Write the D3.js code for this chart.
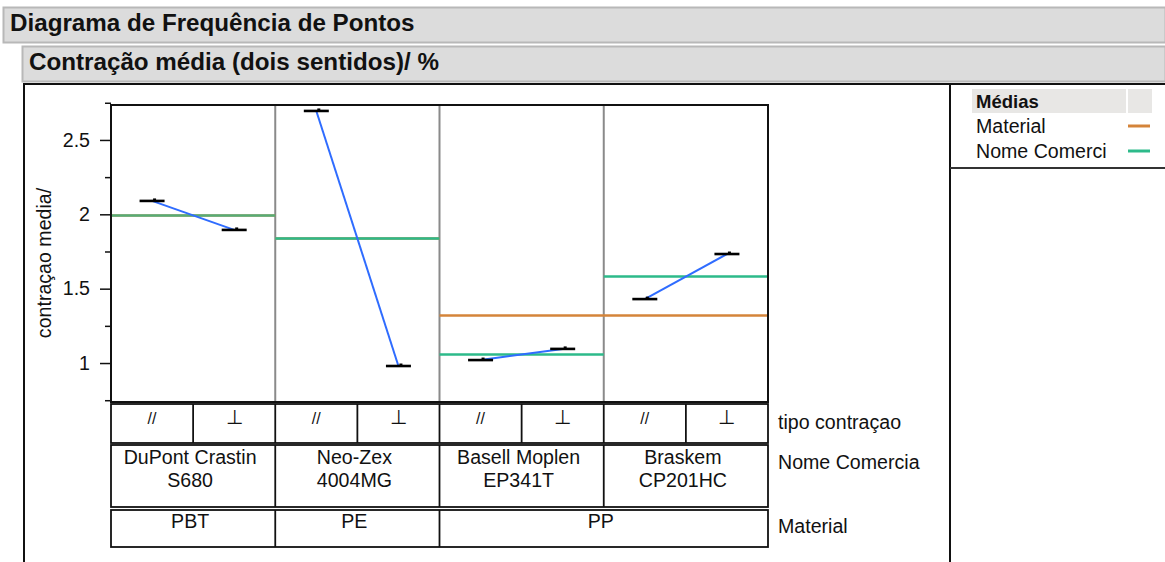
<!DOCTYPE html>
<html>
<head>
<meta charset="utf-8">
<script src="https://cdn.jsdelivr.net/npm/d3@7"></script>
<style>
  html, body { margin: 0; padding: 0; background: #fff; }
  svg { display: block; font-family: "Liberation Sans", Arial, sans-serif; }
</style>
</head>
<body>
<svg id="chart" width="1165" height="562"></svg>
<script>
// Shrinkage (two directions) per trade name, grouped by material
const tradeNames = ["DuPont Crastin S680", "Neo-Zex 4004MG", "Basell Moplen EP341T", "Braskem CP201HC"];
const tradeNameLines = [["DuPont Crastin", "S680"], ["Neo-Zex", "4004MG"], ["Basell Moplen", "EP341T"], ["Braskem", "CP201HC"]];
const materials = ["PBT", "PE", "PP", "PP"];
const shrinkTypes = ["//", "⊥"];
const parallelValues = [2.09, 2.695, 1.02, 1.43];
const perpendicularValues = [1.895, 0.98, 1.095, 1.733];
const yTicks = [1, 1.5, 2, 2.5];
const yMinorTicks = [0.75, 1.25, 1.75, 2.25, 2.75];

const svg = d3.select("#chart");
const labelSize = 19.6;
const cellTextShift = -3; // cell labels sit slightly left of the cell centre

const frame = { left: 111, right: 768, top: 105, bottom: 402 };
const x = d3.scaleBand().domain(tradeNames).range([frame.left, frame.right]);
const xType = d3.scaleBand().domain(shrinkTypes).range([0, x.bandwidth()]);
const y = d3.scaleLinear().domain([0.738, 2.735]).range([frame.bottom, frame.top]);

const colors = { material: "#d4843a", tradeName: "#2dba8a", line: "#2f6cff" };

// Header bars
function headerBar(x0, y0, h, text, baseline) {
  svg.append("rect").attr("x", x0 + 0.5).attr("y", y0 + 0.5).attr("width", 1165 - x0).attr("height", h)
    .attr("fill", "#dcdcdc").attr("stroke", "#b8b8b8").attr("stroke-width", 2);
  svg.append("text").attr("x", x0 + 7).attr("y", baseline).attr("font-size", 24.2)
    .attr("font-weight", "bold").attr("fill", "#111").text(text);
}
headerBar(3, 7, 35, "Diagrama de Frequência de Pontos", 31);
headerBar(22, 46, 35, "Contração média (dois sentidos)/ %", 70);

// Outer frame of the report
svg.append("line").attr("x1", 23).attr("x2", 1165).attr("y1", 84).attr("y2", 84).attr("stroke", "#111").attr("stroke-width", 2);
svg.append("line").attr("x1", 24).attr("x2", 24).attr("y1", 84).attr("y2", 562).attr("stroke", "#111").attr("stroke-width", 2);
svg.append("line").attr("x1", 950).attr("x2", 950).attr("y1", 84).attr("y2", 562).attr("stroke", "#111").attr("stroke-width", 2);
svg.append("line").attr("x1", 950).attr("x2", 1165).attr("y1", 168).attr("y2", 168).attr("stroke", "#333").attr("stroke-width", 2);

// Legend
svg.append("rect").attr("x", 972).attr("y", 89).attr("width", 154).attr("height", 24).attr("fill", "#e8e7e5");
svg.append("rect").attr("x", 1128).attr("y", 89).attr("width", 24).attr("height", 24).attr("fill", "#e8e7e5");
svg.append("text").attr("x", 976).attr("y", 108).attr("font-size", 18.5).attr("font-weight", "bold").attr("fill", "#111").text("Médias");
const legendItems = [["Material", colors.material], ["Nome Comerci", colors.tradeName]];
legendItems.forEach(([label, c], i) => {
  svg.append("text").attr("x", 976).attr("y", 133 + i * 25).attr("font-size", labelSize).attr("fill", "#111").text(label);
  svg.append("line").attr("x1", 1128).attr("x2", 1150).attr("y1", 126 + i * 25).attr("y2", 126 + i * 25)
    .attr("stroke", c).attr("stroke-width", 3);
});

// Y axis
const yAxis = svg.append("g").attr("transform", `translate(${frame.left},0)`)
  .call(d3.axisLeft(y).tickValues(yTicks).tickSize(11).tickPadding(10).tickFormat(d3.format("")));
yAxis.select(".domain").remove();
yAxis.selectAll("text").attr("font-size", labelSize).attr("fill", "#111").attr("font-family", "Liberation Sans, Arial, sans-serif");
yAxis.selectAll("line").attr("stroke", "#111").attr("stroke-width", 1.5);
const yMinor = svg.append("g").attr("transform", `translate(${frame.left},0)`)
  .call(d3.axisLeft(y).tickValues(yMinorTicks).tickSize(6).tickFormat(""));
yMinor.select(".domain").remove();
yMinor.selectAll("line").attr("stroke", "#111").attr("stroke-width", 1.5);

svg.append("text").attr("transform", `translate(51,263) rotate(-90)`)
  .attr("text-anchor", "middle").attr("font-size", labelSize).attr("fill", "#111").text("contraçao media/");

// Panel separators
svg.selectAll(".sep").data(tradeNames.slice(1)).join("line")
  .attr("x1", d => x(d)).attr("x2", d => x(d)).attr("y1", frame.top).attr("y2", frame.bottom)
  .attr("stroke", "#8a8a8a").attr("stroke-width", 2);

// Material means (across trade names of the same material)
const materialGroups = d3.groups(tradeNames.map((t, i) => ({ t, i, m: materials[i] })), d => d.m);
materialGroups.forEach(([m, items]) => {
  const mean = d3.mean(items.flatMap(d => [parallelValues[d.i], perpendicularValues[d.i]]));
  svg.append("line")
    .attr("x1", x(items[0].t)).attr("x2", x(items[items.length - 1].t) + x.bandwidth())
    .attr("y1", y(mean)).attr("y2", y(mean))
    .attr("stroke", colors.material).attr("stroke-width", 2.5);
});

// Trade name means
tradeNames.forEach((t, i) => {
  const mean = d3.mean([parallelValues[i], perpendicularValues[i]]);
  svg.append("line").attr("x1", x(t)).attr("x2", x(t) + x.bandwidth())
    .attr("y1", y(mean)).attr("y2", y(mean))
    .attr("stroke", colors.tradeName).attr("stroke-width", 2.5).attr("opacity", i === 0 ? 0.75 : 1);
});

// Connecting lines and points
tradeNames.forEach((t, i) => {
  const pts = [parallelValues[i], perpendicularValues[i]].map((v, k) => [x(t) + xType(shrinkTypes[k]) + xType.bandwidth() / 2, y(v)]);
  svg.append("path").attr("d", d3.line()(pts)).attr("fill", "none").attr("stroke", colors.line).attr("stroke-width", 2);
  pts.forEach(([px, py]) => {
    svg.append("line").attr("x1", px - 12.5).attr("x2", px + 12.5).attr("y1", py).attr("y2", py)
      .attr("stroke", "#000").attr("stroke-width", 2.6);
    svg.append("rect").attr("x", px + 1).attr("y", py - 2.5).attr("width", 3).attr("height", 3).attr("fill", "#000");
  });
});

// Plot border
svg.append("rect").attr("x", frame.left).attr("y", frame.top).attr("width", frame.right - frame.left)
  .attr("height", frame.bottom - frame.top).attr("fill", "none").attr("stroke", "#111").attr("stroke-width", 2);

// Category table below the plot
const rows = [
  { top: 404, bottom: 443, label: "tipo contraçao", labelY: 429 },
  { top: 445, bottom: 507, label: "Nome Comercia", labelY: 469 },
  { top: 510, bottom: 547, label: "Material", labelY: 533 }
];
rows.forEach(r => {
  svg.append("rect").attr("x", frame.left).attr("y", r.top).attr("width", frame.right - frame.left)
    .attr("height", r.bottom - r.top).attr("fill", "none").attr("stroke", "#111").attr("stroke-width", 1.8);
  svg.append("text").attr("x", 778).attr("y", r.labelY).attr("font-size", labelSize).attr("fill", "#111").text(r.label);
});

// Row 1: shrink direction
tradeNames.forEach(t => {
  shrinkTypes.forEach((s, k) => {
    const x0 = x(t) + xType(s);
    if (x0 > frame.left) {
      svg.append("line").attr("x1", x0).attr("x2", x0).attr("y1", rows[0].top).attr("y2", rows[0].bottom)
        .attr("stroke", "#111").attr("stroke-width", 1.8);
    }
    svg.append("text").attr("x", x0 + xType.bandwidth() / 2).attr("y", 424).attr("text-anchor", "middle")
      .attr("font-size", k === 0 ? 16 : labelSize).attr("fill", "#111").text(s);
  });
});

// Row 2: trade names
tradeNames.forEach((t, i) => {
  if (x(t) > frame.left) {
    svg.append("line").attr("x1", x(t)).attr("x2", x(t)).attr("y1", rows[1].top).attr("y2", rows[1].bottom)
      .attr("stroke", "#111").attr("stroke-width", 1.8);
  }
  tradeNameLines[i].forEach((ln, j) => {
    svg.append("text").attr("x", x(t) + x.bandwidth() / 2 + cellTextShift).attr("y", 464 + j * 23).attr("text-anchor", "middle")
      .attr("font-size", labelSize).attr("fill", "#111").text(ln);
  });
});

// Row 3: materials
materialGroups.forEach(([m, items]) => {
  const x0 = x(items[0].t), x1 = x(items[items.length - 1].t) + x.bandwidth();
  if (x0 > frame.left) {
    svg.append("line").attr("x1", x0).attr("x2", x0).attr("y1", rows[2].top).attr("y2", rows[2].bottom)
      .attr("stroke", "#111").attr("stroke-width", 1.8);
  }
  svg.append("text").attr("x", (x0 + x1) / 2 + cellTextShift).attr("y", 528).attr("text-anchor", "middle")
    .attr("font-size", labelSize).attr("fill", "#111").text(m);
});
</script>
</body>
</html>
